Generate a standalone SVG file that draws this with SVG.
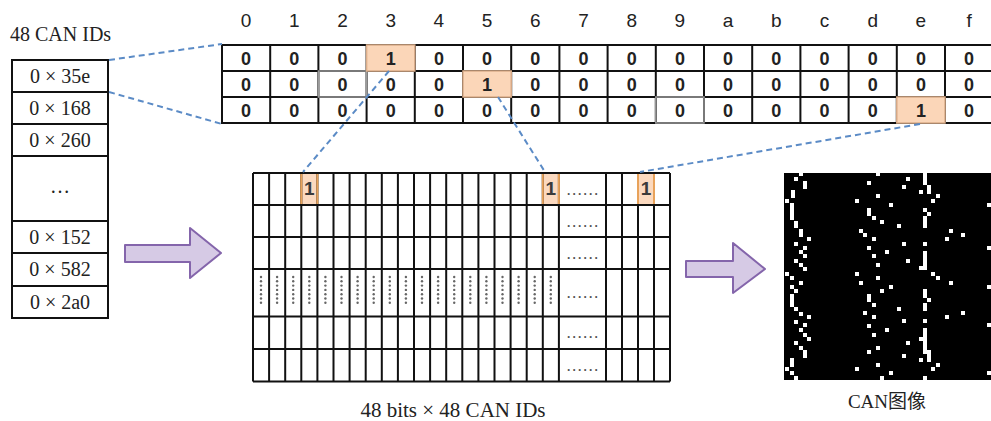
<svg xmlns="http://www.w3.org/2000/svg" xmlns:xlink="http://www.w3.org/1999/xlink" width="991" height="421" viewBox="0 0 991 421">
  <style>
    .box { fill: #fff; stroke: #111; stroke-width: 2; }
    .ln { fill: none; stroke: #111; stroke-width: 2; }
    .serif { font-family: "Liberation Serif", "DejaVu Serif", serif; font-size: 20px; fill: #222; }
    .cjk { font-family: "Liberation Serif", "Noto Sans CJK SC", serif; font-size: 19px; fill: #222; }
    .hdr { font-family: "Liberation Sans", Arial, sans-serif; font-size: 19px; fill: #222; text-anchor: middle; }
    .bit { font-family: "Liberation Sans", Arial, sans-serif; font-size: 18px; font-weight: bold; fill: #222; text-anchor: middle; }
    .one { font-family: "Liberation Sans", Arial, sans-serif; font-size: 19px; font-weight: bold; fill: #3a3a3a; text-anchor: middle; }
    .hl { fill: #fbd6b8; stroke: #dcae8a; stroke-width: 1.5; }
    .hlm { fill: #fbd9bf; }
    .hlside { stroke: #e8a25a; stroke-width: 2; fill: none; }
    .soft { fill: none; stroke: #9c9c9c; stroke-width: 1.5; }
    .dash { fill: none; stroke: #5b8bc6; stroke-width: 2; stroke-dasharray: 6 4; }
    .arrow { fill: #d6cae5; stroke: #8465ab; stroke-width: 2; stroke-linejoin: round; }
    .ell { font-family: "Liberation Sans", Arial, sans-serif; font-size: 12px; font-weight: bold; fill: #555; letter-spacing: 2.2px; text-anchor: middle; }
    .vd { fill: #666; }
    .px { fill: #fff; }
  </style>
  <defs>
    <!-- column of vertical dots used in the elided row of the bit matrix -->
    <g id="vdots">
      <circle class="vd" cx="0" cy="277" r="1.2"/>
      <circle class="vd" cx="0" cy="281.3" r="1.2"/>
      <circle class="vd" cx="0" cy="285.6" r="1.2"/>
      <circle class="vd" cx="0" cy="289.9" r="1.2"/>
      <circle class="vd" cx="0" cy="294.2" r="1.2"/>
      <circle class="vd" cx="0" cy="298.5" r="1.2"/>
      <circle class="vd" cx="0" cy="302.8" r="1.2"/>
    </g>
  </defs>

  <rect width="991" height="421" fill="#fff"/>

  <!-- list of CAN identifiers -->
  <g id="can-id-list">
    <text class="serif" x="10" y="41">48 CAN IDs</text>
    <rect class="box" x="12" y="60" width="96" height="258"/>
    <path class="ln" d="M12 92H108M12 124H108M12 156H108M12 221H108M12 253H108M12 286H108"/>
    <g class="serif" text-anchor="middle">
      <text x="60" y="82.5">0 × 35e</text>
      <text x="60" y="114.5">0 × 168</text>
      <text x="60" y="146.5">0 × 260</text>
      <text x="60" y="193">…</text>
      <text x="60" y="243.5">0 × 152</text>
      <text x="60" y="276">0 × 582</text>
      <text x="60" y="308.5">0 × 2a0</text>
    </g>
  </g>

  <!-- one-hot table of the first three IDs -->
  <g id="bit-table">
    <g class="hdr">
      <text x="246.1" y="27">0</text>
      <text x="294.3" y="27">1</text>
      <text x="342.5" y="27">2</text>
      <text x="390.7" y="27">3</text>
      <text x="438.9" y="27">4</text>
      <text x="487.1" y="27">5</text>
      <text x="535.3" y="27">6</text>
      <text x="583.5" y="27">7</text>
      <text x="631.7" y="27">8</text>
      <text x="679.9" y="27">9</text>
      <text x="728.1" y="27">a</text>
      <text x="776.3" y="27">b</text>
      <text x="824.5" y="27">c</text>
      <text x="872.7" y="27">d</text>
      <text x="920.9" y="27">e</text>
      <text x="969.1" y="27">f</text>
    </g>
    <rect class="box" x="222" y="45" width="771" height="78"/>
    <path class="ln" d="M222 71H993M222 97H993
      M270.2 45V123M318.4 45V123M366.6 45V123M414.8 45V123M463 45V123M511.2 45V123M559.4 45V123M607.6 45V123
      M655.8 45V123M704 45V123M752.2 45V123M800.4 45V123M848.6 45V123M896.8 45V123M945 45V123"/>
    <rect class="soft" x="318.4" y="71" width="48.2" height="26"/>
    <rect class="soft" x="655.8" y="97" width="48.2" height="26"/>
    <rect class="hl" x="366.6" y="45" width="48.2" height="26"/>
    <rect class="hl" x="463" y="71" width="48.2" height="26"/>
    <rect class="hl" x="896.8" y="97" width="48.2" height="26"/>
    <g class="bit">
      <text x="246.1" y="64.5">0</text><text x="294.3" y="64.5">0</text><text x="342.5" y="64.5">0</text><text x="390.7" y="64.5">1</text>
      <text x="438.9" y="64.5">0</text><text x="487.1" y="64.5">0</text><text x="535.3" y="64.5">0</text><text x="583.5" y="64.5">0</text>
      <text x="631.7" y="64.5">0</text><text x="679.9" y="64.5">0</text><text x="728.1" y="64.5">0</text><text x="776.3" y="64.5">0</text>
      <text x="824.5" y="64.5">0</text><text x="872.7" y="64.5">0</text><text x="920.9" y="64.5">0</text><text x="969.1" y="64.5">0</text>

      <text x="246.1" y="90.5">0</text><text x="294.3" y="90.5">0</text><text x="342.5" y="90.5">0</text><text x="390.7" y="90.5">0</text>
      <text x="438.9" y="90.5">0</text><text x="487.1" y="90.5">1</text><text x="535.3" y="90.5">0</text><text x="583.5" y="90.5">0</text>
      <text x="631.7" y="90.5">0</text><text x="679.9" y="90.5">0</text><text x="728.1" y="90.5">0</text><text x="776.3" y="90.5">0</text>
      <text x="824.5" y="90.5">0</text><text x="872.7" y="90.5">0</text><text x="920.9" y="90.5">0</text><text x="969.1" y="90.5">0</text>

      <text x="246.1" y="116.5">0</text><text x="294.3" y="116.5">0</text><text x="342.5" y="116.5">0</text><text x="390.7" y="116.5">0</text>
      <text x="438.9" y="116.5">0</text><text x="487.1" y="116.5">0</text><text x="535.3" y="116.5">0</text><text x="583.5" y="116.5">0</text>
      <text x="631.7" y="116.5">0</text><text x="679.9" y="116.5">0</text><text x="728.1" y="116.5">0</text><text x="776.3" y="116.5">0</text>
      <text x="824.5" y="116.5">0</text><text x="872.7" y="116.5">0</text><text x="920.9" y="116.5">1</text><text x="969.1" y="116.5">0</text>
    </g>
  </g>

  <!-- 48 x 48 bit matrix -->
  <g id="bit-matrix">
    <rect fill="#fff" x="253" y="173" width="417" height="208.5"/>
    <rect class="hlm" x="301.3" y="173" width="16.1" height="32"/>
    <rect class="hlm" x="542.8" y="173" width="16.1" height="32"/>
    <rect class="hlm" x="638" y="173" width="16" height="32"/>
    <path class="ln" d="M253 173H670M253 205H670M253 237H670M253 269H670M253 316.5H670M253 349H670M253 381.5H670
      M253 173V381.5M269.1 173V381.5M285.2 173V381.5M301.3 173V381.5M317.4 173V381.5M333.5 173V381.5M349.6 173V381.5
      M365.7 173V381.5M381.8 173V381.5M397.9 173V381.5M414 173V381.5M430.1 173V381.5M446.2 173V381.5M462.3 173V381.5
      M478.4 173V381.5M494.5 173V381.5M510.6 173V381.5M526.7 173V381.5M542.8 173V381.5M558.9 173V381.5
      M606 173V381.5M622 173V381.5M638 173V381.5M654 173V381.5M670 173V381.5"/>
    <path class="hlside" d="M301.3 174V204M317.4 174V204M542.8 174V204M558.9 174V204M638 174V204M654 174V204"/>
    <text class="one" x="309.4" y="195">1</text>
    <text class="one" x="550.9" y="195">1</text>
    <text class="one" x="646" y="195">1</text>
    <g class="ell">
      <text x="583.5" y="194.5">......</text>
      <text x="583.5" y="226.5">......</text>
      <text x="583.5" y="258.5">......</text>
      <text x="583.5" y="298">......</text>
      <text x="583.5" y="338">......</text>
      <text x="583.5" y="370.5">......</text>
    </g>
    <use xlink:href="#vdots" x="261"/>
    <use xlink:href="#vdots" x="277.1"/>
    <use xlink:href="#vdots" x="293.2"/>
    <use xlink:href="#vdots" x="309.3"/>
    <use xlink:href="#vdots" x="325.4"/>
    <use xlink:href="#vdots" x="341.5"/>
    <use xlink:href="#vdots" x="357.6"/>
    <use xlink:href="#vdots" x="373.7"/>
    <use xlink:href="#vdots" x="389.8"/>
    <use xlink:href="#vdots" x="405.9"/>
    <use xlink:href="#vdots" x="422"/>
    <use xlink:href="#vdots" x="438.1"/>
    <use xlink:href="#vdots" x="454.2"/>
    <use xlink:href="#vdots" x="470.3"/>
    <use xlink:href="#vdots" x="486.4"/>
    <use xlink:href="#vdots" x="502.5"/>
    <use xlink:href="#vdots" x="518.6"/>
    <use xlink:href="#vdots" x="534.7"/>
    <use xlink:href="#vdots" x="550.8"/>
    <text class="serif" x="453" y="417" text-anchor="middle" style="font-size:21px">48 bits × 48 CAN IDs</text>
  </g>

  <!-- resulting binary image -->
  <g id="can-image">
    <rect x="784" y="173" width="207" height="207" fill="#000"/>
    <g class="px">
      <!-- left band -->
      <rect x="799" y="173" width="4" height="3"/><rect x="794" y="177" width="4" height="4"/>
      <rect x="803" y="181" width="4" height="8"/><rect x="791" y="190" width="4" height="8"/>
      <rect x="785" y="199" width="4" height="4"/><rect x="790" y="203" width="4" height="17"/>
      <rect x="794" y="221" width="4" height="7"/><rect x="799" y="229" width="4" height="8"/>
      <rect x="807" y="237" width="4" height="4"/><rect x="794" y="242" width="4" height="4"/>
      <rect x="803" y="246" width="4" height="4"/><rect x="799" y="250" width="4" height="4"/>
      <rect x="803" y="254" width="4" height="4"/><rect x="794" y="259" width="4" height="4"/>
      <rect x="799" y="263" width="4" height="4"/><rect x="803" y="267" width="4" height="4"/>
      <rect x="785" y="272" width="4" height="4"/><rect x="790" y="276" width="4" height="4"/>
      <rect x="799" y="281" width="4" height="4"/><rect x="790" y="285" width="4" height="4"/>
      <rect x="794" y="289" width="4" height="4"/><rect x="790" y="294" width="4" height="13"/>
      <rect x="794" y="307" width="4" height="4"/><rect x="799" y="312" width="4" height="4"/>
      <rect x="807" y="315" width="4" height="4"/><rect x="794" y="320" width="4" height="4"/>
      <rect x="803" y="323" width="4" height="4"/><rect x="799" y="328" width="4" height="4"/>
      <rect x="803" y="333" width="4" height="4"/><rect x="807" y="337" width="4" height="4"/>
      <rect x="794" y="341" width="4" height="4"/><rect x="799" y="346" width="4" height="4"/>
      <rect x="803" y="350" width="4" height="8"/><rect x="790" y="358" width="4" height="9"/>
      <rect x="785" y="367" width="4" height="4"/><rect x="790" y="371" width="4" height="4"/>
      <rect x="794" y="376" width="4" height="4"/>
      <!-- middle band -->
      <rect x="876" y="173" width="4" height="3"/><rect x="867" y="181" width="4" height="4"/>
      <rect x="876" y="194" width="4" height="4"/><rect x="855" y="199" width="4" height="4"/>
      <rect x="889" y="203" width="4" height="4"/><rect x="867" y="208" width="4" height="8"/>
      <rect x="872" y="216" width="4" height="4"/><rect x="880" y="220" width="4" height="4"/>
      <rect x="897" y="224" width="4" height="4"/><rect x="859" y="229" width="4" height="4"/>
      <rect x="863" y="233" width="4" height="4"/><rect x="872" y="237" width="4" height="4"/>
      <rect x="902" y="242" width="4" height="4"/><rect x="867" y="246" width="4" height="4"/>
      <rect x="885" y="250" width="4" height="4"/><rect x="872" y="254" width="4" height="4"/>
      <rect x="906" y="259" width="4" height="4"/><rect x="876" y="263" width="4" height="4"/>
      <rect x="855" y="272" width="4" height="4"/><rect x="876" y="276" width="4" height="4"/>
      <rect x="859" y="281" width="4" height="4"/><rect x="889" y="285" width="4" height="4"/>
      <rect x="880" y="289" width="4" height="4"/><rect x="867" y="294" width="4" height="8"/>
      <rect x="872" y="303" width="4" height="4"/><rect x="897" y="307" width="4" height="4"/>
      <rect x="863" y="311" width="4" height="4"/><rect x="872" y="315" width="4" height="4"/>
      <rect x="902" y="319" width="4" height="4"/><rect x="867" y="324" width="4" height="4"/>
      <rect x="885" y="328" width="4" height="4"/><rect x="872" y="333" width="4" height="4"/>
      <rect x="906" y="341" width="4" height="4"/><rect x="876" y="346" width="4" height="4"/>
      <rect x="867" y="350" width="4" height="4"/><rect x="902" y="354" width="4" height="4"/>
      <rect x="876" y="363" width="4" height="4"/><rect x="855" y="367" width="4" height="4"/>
      <rect x="889" y="371" width="4" height="4"/><rect x="880" y="376" width="4" height="4"/>
      <!-- band with long vertical runs -->
      <rect x="923" y="173" width="4" height="12"/><rect x="906" y="177" width="4" height="4"/>
      <rect x="902" y="185" width="4" height="4"/><rect x="919" y="190" width="4" height="4"/>
      <rect x="927" y="185" width="4" height="9"/><rect x="936" y="194" width="4" height="4"/>
      <rect x="931" y="199" width="4" height="4"/><rect x="923" y="208" width="4" height="4"/>
      <rect x="927" y="212" width="4" height="4"/><rect x="923" y="216" width="4" height="12"/>
      <rect x="923" y="242" width="4" height="4"/><rect x="923" y="251" width="4" height="19"/>
      <rect x="919" y="266" width="4" height="4"/><rect x="931" y="272" width="4" height="4"/>
      <rect x="936" y="276" width="4" height="4"/><rect x="949" y="281" width="4" height="4"/>
      <rect x="923" y="289" width="4" height="9"/><rect x="927" y="298" width="4" height="4"/>
      <rect x="923" y="303" width="4" height="8"/><rect x="923" y="319" width="4" height="4"/>
      <rect x="923" y="328" width="4" height="26"/><rect x="919" y="337" width="4" height="4"/>
      <rect x="927" y="350" width="4" height="12"/><rect x="919" y="358" width="4" height="4"/>
      <rect x="936" y="363" width="4" height="4"/><rect x="931" y="367" width="4" height="4"/>
      <rect x="923" y="376" width="4" height="4"/>
      <!-- sparse right side -->
      <rect x="949" y="229" width="4" height="4"/><rect x="945" y="237" width="4" height="4"/>
      <rect x="961" y="233" width="4" height="4"/><rect x="945" y="315" width="4" height="4"/>
      <rect x="961" y="311" width="4" height="4"/>
      <rect x="987" y="203" width="4" height="4"/><rect x="987" y="246" width="4" height="4"/>
      <rect x="987" y="285" width="4" height="4"/><rect x="987" y="323" width="4" height="4"/>
      <rect x="987" y="371" width="4" height="4"/>
    </g>
    <text class="cjk" x="887" y="408" text-anchor="middle">CAN图像</text>
  </g>

  <!-- block arrows between stages -->
  <g id="arrow-encode">
    <polygon class="arrow" points="125,245 190,245 190,228 221,253 190,278 190,262 125,262"/>
  </g>
  <g id="arrow-render">
    <polygon class="arrow" points="686,261 733,261 733,243 765,269 733,293 733,277 686,277"/>
  </g>

  <!-- dashed correspondence lines -->
  <g id="connectors">
    <path class="dash" d="M109 60L222 44"/>
    <path class="dash" d="M109 92L222 124"/>
    <path class="dash" d="M389 71L303 172"/>
    <path class="dash" d="M498 97L545 172"/>
    <path class="dash" d="M920 124L640 172"/>
  </g>
</svg>
